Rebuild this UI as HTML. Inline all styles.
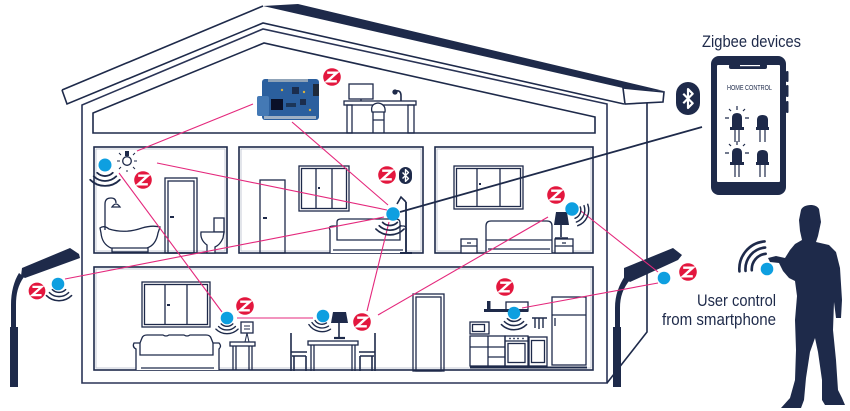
<!DOCTYPE html>
<html>
<head>
<meta charset="utf-8">
<style>
  html,body{margin:0;padding:0;background:#fff;}
  body{width:850px;height:411px;overflow:hidden;}
  svg{display:block;}
  text{font-family:"Liberation Sans", sans-serif;fill:#1e2a4a;}
</style>
</head>
<body>
<svg width="850" height="411" viewBox="0 0 850 411" xmlns="http://www.w3.org/2000/svg">
  <defs>
    <g id="zb">
      <circle r="8.8" fill="#e3173e"/>
      <path d="M-4.8,-4.3 L4.8,-4.3 L-4.8,4.3 L4.8,4.3" fill="none" stroke="#fff" stroke-width="2.4" stroke-linejoin="miter"/>
    </g>
    <g id="wv" fill="none" stroke="#1e2a4a" stroke-width="1.8" stroke-linecap="round">
      <path d="M-7.8,7.8 A11,11 0 0 0 7.8,7.8"/>
      <path d="M-11.3,11.3 A16,16 0 0 0 11.3,11.3"/>
      <path d="M-14.8,14.8 A21,21 0 0 0 14.8,14.8"/>
    </g>
    <g id="bt">
      <path d="M-3.5,-3.5 L3.5,3.5 L0,7 L0,-7 L3.5,-3.5 L-3.5,3.5" fill="none" stroke="#fff" stroke-width="1.6" stroke-linejoin="round"/>
    </g>
  </defs>

  <!-- ===== HOUSE STRUCTURE ===== -->
  <polygon points="263,6 298,4 664,91 623,88" fill="#1e2a4a"/>
  <g fill="none" stroke="#1e2a4a" stroke-width="1.6" stroke-linejoin="miter">
    <path d="M62,90 L263,6"/>
    <path d="M62,90 L67,104 L263,23 L624,104"/>
    <path d="M82,383 L82,105 L263,29 L607,104 L607,383 Z" stroke="#2a3456"/>
    <path d="M93,133 L93,113 L264,43 L595,117 L595,133 Z"/>
    <polygon points="623,88 664,92 663,102 625,104" fill="#fff"/>
    <path d="M647,103 L647,332 L607,383"/>
    <!-- rooms -->
    <rect x="94" y="147" width="133" height="106"/>
    <rect x="239" y="147" width="184" height="106"/>
    <rect x="435" y="147" width="158" height="106"/>
    <rect x="94" y="267" width="499" height="103"/>
  </g>
  <g fill="none" stroke="#b9bfcd" stroke-width="0.8">
    <rect x="96" y="149" width="129" height="102"/>
    <rect x="241" y="149" width="180" height="102"/>
    <rect x="437" y="149" width="154" height="102"/>
    <rect x="96" y="269" width="495" height="99"/>
  </g>

  <!-- ===== ATTIC ===== -->
  <g fill="none" stroke="#1e2a4a" stroke-width="1.3">
    <rect x="344" y="101" width="72" height="4" fill="#fff"/>
    <rect x="347" y="105" width="5" height="28"/>
    <rect x="408" y="105" width="6" height="28"/>
    <rect x="349" y="84" width="24" height="15"/>
    <path d="M361,99 L361,101"/>
    <path d="M372,112 Q370,104 378,103 Q386,104 385,112 Z" fill="#fff"/>
    <path d="M373,112 L373,133 M384,112 L384,133 M373,120 L384,120"/>
    <path d="M401,101 L401,96 Q401,90 396,91" stroke-width="1.6"/>
    <circle cx="395" cy="92" r="2" fill="#1e2a4a"/>
  </g>
  <!-- circuit board -->
  <g>
    <rect x="262" y="79" width="57" height="41" rx="3" fill="#2b5f9e"/>
    <rect x="257" y="96" width="12" height="20" rx="2" fill="#4479b5"/>
    <rect x="268" y="79" width="40" height="3" fill="#8fa3b8"/>
    <rect x="271" y="99" width="12" height="11" fill="#0a1028"/>
    <rect x="292" y="87" width="7" height="7" fill="#1b2d4d"/>
    <rect x="300" y="99" width="6" height="6" fill="#1b2d4d"/>
    <rect x="313" y="84" width="6" height="12" fill="#1f2a3a"/>
    <rect x="286" y="103" width="10" height="4" fill="#1b3558"/>
    <rect x="264" y="116" width="52" height="3" fill="#9fb0c4"/>
    <circle cx="304" cy="92" r="1.2" fill="#d8b040"/>
    <circle cx="282" cy="90" r="1.2" fill="#d8b040"/>
    <circle cx="310" cy="110" r="1.2" fill="#d8b040"/>
  </g>

  <!-- ===== BATHROOM ===== -->
  <g fill="none" stroke="#1e2a4a" stroke-width="1.3">
    <path d="M100,228 Q104,225 109,229 Q125,234 142,228 Q152,225 160,227 L158,233 Q156,245 147,248 L111,248 Q102,244 101,233 Z" fill="#fff"/>
    <path d="M112,248 L112,252 L148,252 L148,248"/>
    <path d="M105,230 L105,204 Q105,198 111,198 Q116,198 116,203"/>
    <path d="M112,207 Q116,201 120,207 Z" fill="#fff"/>
    <rect x="165" y="178" width="32" height="75"/>
    <rect x="168" y="181" width="26" height="72"/>
    <path d="M170,217 L174,217" stroke-width="2"/>
    <rect x="214" y="218" width="10" height="14" fill="#fff"/>
    <path d="M201,232 L224,232 L223,238 Q220,245 215,247 L215,253 L207,253 L207,245 Q200,240 201,232 Z" fill="#fff"/>
    <!-- bulb -->
    <circle cx="127" cy="161" r="4.3" fill="#fff"/>
    <path d="M120,161 L117,161 M134,161 L137,161 M121,155 L119,153 M133,155 L135,153 M121,167 L119,169 M133,167 L135,169 M127,170 L127,172" stroke-width="1"/>
  </g>
  <rect x="125" y="151" width="4" height="5" fill="#1e2a4a"/>

  <!-- ===== LIVING (UPPER) ===== -->
  <g fill="none" stroke="#1e2a4a" stroke-width="1.3">
    <rect x="260" y="180" width="25" height="73"/>
    <path d="M263,218 L267,218" stroke-width="2"/>
    <rect x="299" y="166" width="50" height="45"/>
    <rect x="301.5" y="168.5" width="45" height="40"/>
    <path d="M316,168 L316,209 M332,168 L332,209"/>
    <path d="M318,188 L320,188" stroke-width="2"/>
    <path d="M330,253 L330,230 Q328,226 333,226 L337,226 L337,222 Q337,219 341,219 L396,219 Q400,219 400,223 L400,226 L404,226 Q407,227 406,231 L406,253" fill="#fff"/>
    <path d="M337,226 L337,240 L400,240 L400,226 M333,250 L403,250"/>
    <path d="M406,253 L406,202" stroke-width="1.8"/>
    <path d="M400,253 L412,253" stroke-width="2"/>
    <path d="M406,202 L401,197 L397,204" stroke-width="1.6"/>
  </g>
  <!-- small zigbee + bluetooth -->
  <use href="#zb" transform="translate(387,175)"/>
  <rect x="399" y="167" width="13" height="17" rx="6.5" fill="#1e2a4a"/>
  <use href="#bt" transform="translate(405.5,175.5) scale(0.85)"/>

  <!-- ===== BEDROOM ===== -->
  <g fill="none" stroke="#1e2a4a" stroke-width="1.3">
    <rect x="454" y="166" width="69" height="43"/>
    <rect x="456.5" y="168.5" width="64" height="38"/>
    <path d="M477,168 L477,207 M500,168 L500,207"/>
    <path d="M479,184 L481,184" stroke-width="2"/>
    <path d="M486,253 L486,226 Q486,221 491,221 L547,221 Q552,221 552,226 L552,253" fill="#fff"/>
    <path d="M486,240 L552,240 M488,249 L550,249"/>
    <rect x="461" y="239" width="16" height="14" fill="#fff"/>
    <path d="M461,246 L477,246 M467,243 L471,243"/>
    <rect x="555" y="239" width="18" height="14" fill="#fff"/>
    <path d="M555,246 L573,246 M562,243 L566,243"/>
    <path d="M561,225 L561,237 M555,238 L568,238" stroke-width="1.6"/>
  </g>
  <polygon points="556,212 567,212 569,225 554,225" fill="#1e2a4a"/>

  <!-- ===== GROUND FLOOR LIVING ===== -->
  <g fill="none" stroke="#1e2a4a" stroke-width="1.3">
    <rect x="142" y="282" width="68" height="45"/>
    <rect x="144.5" y="284.5" width="63" height="40"/>
    <path d="M165,284 L165,325 M187,284 L187,325"/>
    <path d="M167,305 L170,305" stroke-width="2"/>
    <path d="M136,370 L136,349 Q132,347 134,343 L140,343 L142,338 Q143,335 147,335 L163,335 Q166,337 169,335 L184,335 Q187,337 190,335 L206,335 Q210,335 211,338 L213,343 L219,343 Q222,346 219,349 L219,370" fill="#fff"/>
    <path d="M140,343 L140,355 L213,355 L213,343 M141,368 L214,368"/>
    <rect x="230" y="342" width="25" height="4" fill="#fff"/>
    <path d="M233,346 L233,370 M252,346 L252,370 M236,346 L236,370 M249,346 L249,370"/>
    <rect x="241" y="322" width="12" height="11" fill="#fff"/>
    <path d="M244,326 L250,326 M244,329 L250,329 M247,333 L245,342 M247,333 L249,342" stroke-width="1"/>
    <!-- dining -->
    <path d="M291,333 L291,371 M291,352 L307,352 M292,356 L306,356 M306,356 L306,371 M294,356 L294,371" stroke-width="1.6"/>
    <rect x="308" y="341" width="50" height="4" fill="#fff"/>
    <path d="M311,345 L311,371 M355,345 L355,371 M314,345 L314,371 M352,345 L352,371"/>
    <path d="M375,333 L375,371 M359,352 L375,352 M360,356 L374,356 M360,356 L360,371 M372,356 L372,371" stroke-width="1.6"/>
    <path d="M339,323 L339,337" stroke-width="1.6"/>
    <path d="M334,338 L345,338" stroke-width="2.2"/>
  </g>
  <polygon points="333,312 346,312 348,323 331,323" fill="#1e2a4a"/>

  <!-- ===== KITCHEN ===== -->
  <g fill="none" stroke="#1e2a4a" stroke-width="1.3">
    <rect x="413" y="294" width="31" height="77"/>
    <rect x="416" y="297" width="25" height="74"/>
    <rect x="470" y="322" width="19" height="12"/>
    <rect x="472.5" y="324.5" width="12" height="7"/>
    <rect x="470" y="336" width="35" height="30"/>
    <path d="M488,336 L488,366 M470,347 L505,347 M488,357 L505,357"/>
    <rect x="505" y="336" width="23" height="30"/>
    <path d="M505,341 L528,341"/>
    <rect x="508" y="343.5" width="17" height="19"/>
    <rect x="529" y="337" width="18" height="29"/>
    <rect x="531.5" y="340.5" width="13" height="22"/>
    <path d="M470,367.5 L587,367.5" stroke-width="2"/>
    <rect x="552" y="297" width="34" height="68"/>
    <path d="M552,315 L586,315 M555,318 L555,326" />
    <rect x="506" y="302" width="22" height="9"/>
    <path d="M532,318 L547,318 M535,318 L535,328 M539,318 L539,329 M543,318 L543,328" stroke-width="1.4"/>
  </g>
  <rect x="484" y="309" width="44" height="3" fill="#1e2a4a"/>
  <rect x="487" y="301" width="3.5" height="8" fill="#1e2a4a"/>
  <g fill="#1e2a4a">
    <circle cx="510" cy="338.5" r="0.9"/><circle cx="514" cy="338.5" r="0.9"/><circle cx="518" cy="338.5" r="0.9"/><circle cx="523" cy="338.5" r="0.9"/>
  </g>

  <!-- ===== STREET LAMPS ===== -->
  <g fill="#1e2a4a">
    <polygon points="22,268 70,248 79,254 80,258 25,278 21,276"/>
    <path d="M19,273 C14,281 11,292 11,305 L11,330 L16,330 L16,305 C16,294 18,285 24,277 Z"/>
    <rect x="10" y="327" width="8" height="60"/>
    <polygon points="624,268 673,248 682,255 678,260 630,282 624,278"/>
    <path d="M625,276 C619,285 615,295 615,308 L615,330 L620,330 L620,308 C620,297 623,288 630,280 Z"/>
    <rect x="613" y="327" width="8" height="60"/>
  </g>

  <!-- ===== CONNECTION LINES ===== -->
  <g stroke="#e4287c" stroke-width="1.1" fill="none">
    <line x1="253" y1="104" x2="137" y2="151"/>
    <line x1="292" y1="122" x2="388" y2="205"/>
    <line x1="157" y1="163" x2="387" y2="210"/>
    <line x1="119" y1="173" x2="222" y2="312"/>
    <line x1="65" y1="279" x2="384" y2="217"/>
    <line x1="237" y1="318" x2="313" y2="318"/>
    <line x1="389" y1="222" x2="367" y2="311"/>
    <line x1="378" y1="315" x2="548" y2="217"/>
    <line x1="581" y1="211" x2="658" y2="272"/>
    <line x1="522" y1="308" x2="658" y2="283"/>
  </g>
  <line x1="400" y1="212" x2="702" y2="127" stroke="#1e2a4a" stroke-width="1.8"/>

  <!-- ===== WAVES ===== -->
  <use href="#wv" transform="translate(105,165)"/>
  <use href="#wv" transform="translate(390,215) scale(0.95)"/>
  <use href="#wv" transform="translate(572,210) rotate(-65) scale(0.8)"/>
  <use href="#wv" transform="translate(59,283) scale(0.85)"/>
  <use href="#wv" transform="translate(227,318) scale(0.75)"/>
  <use href="#wv" transform="translate(322,316) rotate(12) scale(0.75)"/>
  <use href="#wv" transform="translate(514,312) scale(0.85)"/>
  <g transform="translate(767,269) rotate(130) scale(1.2)">
    <g fill="none" stroke="#1e2a4a" stroke-width="2.2" stroke-linecap="round">
      <path d="M-9,9 A13,13 0 0 0 9,9"/>
      <path d="M-12.7,12.7 A18,18 0 0 0 12.7,12.7"/>
      <path d="M-16.3,16.3 A23,23 0 0 0 16.3,16.3"/>
    </g>
  </g>

  <!-- ===== BLUE DOTS ===== -->
  <g fill="#0e9fe0">
    <circle cx="105" cy="165" r="6.5"/>
    <circle cx="393" cy="214" r="6.7"/>
    <circle cx="572" cy="209" r="6.7"/>
    <circle cx="58" cy="284" r="6.3"/>
    <circle cx="227" cy="318" r="6.3"/>
    <circle cx="323" cy="316" r="6.3"/>
    <circle cx="514" cy="313" r="6.3"/>
    <circle cx="664" cy="278" r="6.3"/>
    <circle cx="767" cy="269" r="6.3"/>
  </g>

  <!-- ===== ZIGBEE ICONS ===== -->
  <use href="#zb" transform="translate(332,77)"/>
  <use href="#zb" transform="translate(143,180)"/>
  <use href="#zb" transform="translate(556,195)"/>
  <use href="#zb" transform="translate(37,291) scale(0.95)"/>
  <use href="#zb" transform="translate(245,306)"/>
  <use href="#zb" transform="translate(362,322)"/>
  <use href="#zb" transform="translate(505,287)"/>
  <use href="#zb" transform="translate(688,272)"/>

  <!-- ===== BLUETOOTH BIG ===== -->
  <rect x="676" y="82" width="24" height="33" rx="12" fill="#1e2a4a"/>
  <use href="#bt" transform="translate(688,98.5) scale(1.35)"/>

  <!-- ===== PHONE ===== -->
  <text x="702" y="47" font-size="17" textLength="99" lengthAdjust="spacingAndGlyphs">Zigbee devices</text>
  <rect x="786" y="71" width="2.5" height="11" rx="1" fill="#1e2a4a"/>
  <rect x="786" y="85" width="2.5" height="12" rx="1" fill="#1e2a4a"/>
  <rect x="786" y="101" width="2.5" height="12" rx="1" fill="#1e2a4a"/>
  <rect x="711" y="56" width="75" height="139" rx="8" fill="#1e2a4a"/>
  <rect x="717" y="65" width="63" height="117" rx="1" fill="#fff"/>
  <rect x="729" y="64" width="38" height="5" rx="2" fill="#1e2a4a"/>
  <rect x="740" y="65" width="20" height="1.2" fill="#fff"/>
  <text x="727" y="90" font-size="7" textLength="45" lengthAdjust="spacingAndGlyphs">HOME CONTROL</text>
  <g fill="#1e2a4a">
    <path d="M732,127 L732,118 Q732,113 737,113 Q742,113 742,118 L742,127 Z"/>
    <rect x="730" y="127" width="14" height="3"/>
    <path d="M757,127 L757,120 Q757,115 762.5,115 Q768,115 768,120 L768,127 Z"/>
    <rect x="756" y="127" width="13" height="3"/>
    <path d="M732,162 L732,153 Q732,148 737,148 Q742,148 742,153 L742,162 Z"/>
    <rect x="730" y="162" width="14" height="3"/>
    <path d="M757,162 L757,155 Q757,150 762.5,150 Q768,150 768,155 L768,162 Z"/>
    <rect x="756" y="162" width="13" height="3"/>
  </g>
  <g stroke="#1e2a4a" stroke-width="1.2" fill="none">
    <path d="M735,130 L735,142 M739,130 L739,142 M760,130 L760,142 M765,130 L765,142"/>
    <path d="M735,165 L735,177 M739,165 L739,177 M760,165 L760,177 M765,165 L765,177"/>
    <path d="M737,106 L737,110 M729,109 L731,111 M745,109 L743,111 M725,118 L729,118 M745,118 L749,118"/>
    <path d="M737,141 L737,145 M729,144 L731,146 M745,144 L743,146 M725,153 L729,153 M745,153 L749,153"/>
  </g>

  <!-- ===== PERSON ===== -->
  <path fill="#1e2a4a" d="M801,210 C803,204 816,203 819,209 L821,222 L818,236 L816,242 L829,245 L836,252 L840,268 L842,300 L841,318 L836,318 L834,302 L833,330 L836,360 L838,390 L842,398 L845,405 L825,405 L822,400 L822,380 L818,352 L815,338 L810,352 L806,378 L804,400 L801,408 L781,408 L790,398 L795,380 L796,350 L795,320 L797,296 L795,281 L789,278 L783,271 L779,263 L770,262 L768,258 L776,256 L785,258 L790,250 L795,244 L802,240 L800,231 L799,220 Z"/>

  <!-- ===== LABELS ===== -->
  <text x="697" y="306" font-size="17" textLength="79" lengthAdjust="spacingAndGlyphs">User control</text>
  <text x="662" y="325" font-size="17" textLength="114" lengthAdjust="spacingAndGlyphs">from smartphone</text>
</svg>
</body>
</html>
